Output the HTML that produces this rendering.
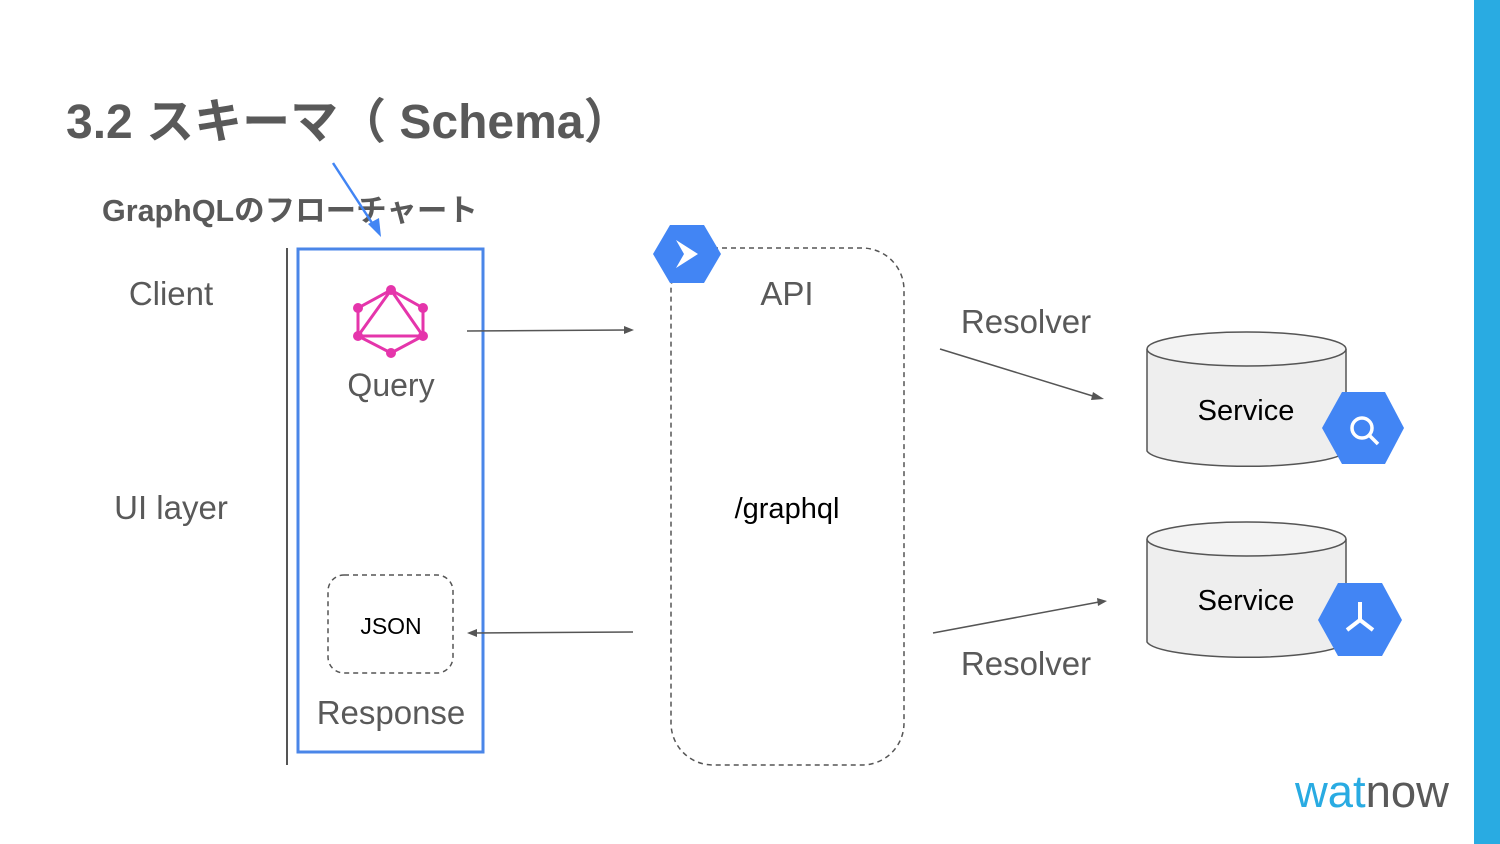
<!DOCTYPE html>
<html><head><meta charset="utf-8"><style>
html,body{margin:0;padding:0;background:#fff;width:1500px;height:844px;overflow:hidden}
svg{display:block}
text{font-family:"Liberation Sans","Noto Sans CJK JP",sans-serif}
</style></head><body>
<svg width="1500" height="844" viewBox="0 0 1500 844">
<rect x="1474" y="0" width="26" height="844" fill="#29abe2"/>
<text x="66" y="138" font-size="48" font-weight="bold" fill="#595959">3.2 スキーマ（ Schema）</text>
<text x="102" y="221" font-size="30.5" font-weight="bold" fill="#595959">GraphQLのフローチャート</text>
<line x1="333" y1="163" x2="374" y2="226" stroke="#4285f4" stroke-width="2.5"/>
<polygon points="381,237 368,224 379,218" fill="#4285f4"/>
<text x="171" y="305" font-size="33" fill="#595959" text-anchor="middle">Client</text>
<text x="171" y="519" font-size="33" fill="#595959" text-anchor="middle">UI layer</text>
<line x1="287" y1="248" x2="287" y2="765" stroke="#555" stroke-width="2"/>
<rect x="298" y="249" width="185" height="503" fill="none" stroke="#4a86e8" stroke-width="3"/>
<g stroke="#e535ab" stroke-width="3" fill="none">
<polygon points="391,290 423,308 423,336 391,353 358,336 358,308"/>
<polygon points="391,290 423,336 358,336"/>
</g>
<g fill="#e535ab">
<circle cx="391" cy="290" r="5"/><circle cx="423" cy="308" r="5"/><circle cx="423" cy="336" r="5"/>
<circle cx="391" cy="353" r="5"/><circle cx="358" cy="336" r="5"/><circle cx="358" cy="308" r="5"/>
</g>
<text x="391" y="396" font-size="32" fill="#595959" text-anchor="middle">Query</text>
<rect x="328" y="575" width="125" height="98" rx="16" fill="none" stroke="#555" stroke-width="1.5" stroke-dasharray="5,4"/>
<text x="391" y="634" font-size="23" fill="#000" text-anchor="middle">JSON</text>
<text x="391" y="724" font-size="33" fill="#595959" text-anchor="middle">Response</text>
<line x1="467" y1="331" x2="627" y2="330" stroke="#555" stroke-width="1.5"/>
<polygon points="634,330 624,326 624,334" fill="#555"/>
<line x1="633" y1="632" x2="475" y2="633" stroke="#555" stroke-width="1.5"/>
<polygon points="467,633 477,629 477,637" fill="#555"/>
<rect x="671" y="248" width="233" height="517" rx="42" fill="none" stroke="#555" stroke-width="1.5" stroke-dasharray="5,4"/>
<polygon points="670,225 704,225 721,254 704,283 670,283 653,254" fill="#4285f4"/>
<path d="M676 240 L698 254 L676 268 L684 254 Z" fill="#fff"/>
<text x="787" y="305" font-size="33" fill="#595959" text-anchor="middle">API</text>
<text x="787" y="518" font-size="29" fill="#000" text-anchor="middle">/graphql</text>
<text x="1026" y="333" font-size="33" fill="#595959" text-anchor="middle">Resolver</text>
<text x="1026" y="675" font-size="33" fill="#595959" text-anchor="middle">Resolver</text>
<line x1="940" y1="349" x2="1096" y2="397" stroke="#555" stroke-width="1.5"/>
<polygon points="1104,399 1093,392 1091,400" fill="#555"/>
<line x1="933" y1="633" x2="1099" y2="602" stroke="#555" stroke-width="1.5"/>
<polygon points="1107,601 1097,598 1098,606" fill="#555"/>
<g stroke="#555" stroke-width="1.5" fill="#eeeeee">
<path d="M1147 349 V451 A100 17 0 0 0 1346 451 V349"/>
<ellipse cx="1246.5" cy="349" rx="99.5" ry="17" fill="#f3f3f3"/>
<path d="M1147 539 V642 A100 17 0 0 0 1346 642 V539"/>
<ellipse cx="1246.5" cy="539" rx="99.5" ry="17" fill="#f3f3f3"/>
</g>
<text x="1246" y="420" font-size="29" fill="#000" text-anchor="middle">Service</text>
<text x="1246" y="610" font-size="29" fill="#000" text-anchor="middle">Service</text>
<polygon points="1342,392 1385,392 1404,428 1385,464 1342,464 1322,428" fill="#4285f4"/>
<circle cx="1362" cy="428" r="10" fill="none" stroke="#fff" stroke-width="3.5"/>
<line x1="1369" y1="435" x2="1378" y2="444" stroke="#fff" stroke-width="3.5"/>
<polygon points="1338,583 1382,583 1402,620 1382,656 1338,656 1318,620" fill="#4285f4"/>
<g stroke="#fff" stroke-width="4" fill="none"><line x1="1360" y1="602" x2="1360" y2="620"/><line x1="1360" y1="620" x2="1347" y2="630"/><line x1="1360" y1="620" x2="1373" y2="630"/></g>
<text x="1295" y="807" font-size="45" fill="#29abe2" textLength="154" lengthAdjust="spacingAndGlyphs">wat<tspan fill="#595959">now</tspan></text>
</svg>
</body></html>
